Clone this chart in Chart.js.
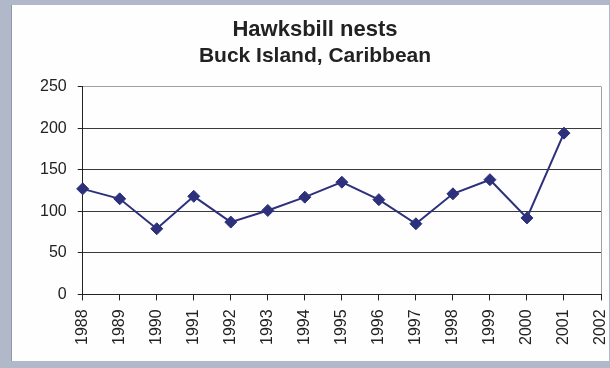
<!DOCTYPE html>
<html lang="en">
<head>
    <meta charset="UTF-8">
    <title>Hawksbill nests</title>
    <script src="https://cdn.jsdelivr.net/npm/chart.js"></script>
    <style>
        body {
            margin: 0;
            background: #b1b8c9;
            font-family: Arial, "Liberation Sans", sans-serif;
        }
        #panel {
            position: absolute;
            left: 11px;
            top: 5px;
            width: 597px;
            height: 356px;
            background: #fefefe;
            border-left: 1px solid #9097a6;
        }
        #wrap {
            position: absolute;
            left: 0;
            top: 0;
            width: 610px;
            height: 368px;
        }
    </style>
</head>
<body>
    <div id="panel"></div>
    <div id="wrap"><canvas id="nestsChart"></canvas></div>

    <script>
        // Data
        const years = ['1988', '1989', '1990', '1991', '1992', '1993', '1994', '1995',
                       '1996', '1997', '1998', '1999', '2000', '2001', '2002'];
        const nests = [127, 115, 79, 118, 87, 101, 117, 135, 114, 85, 121, 138, 92, 194];
        const yTicks = [0, 50, 100, 150, 200, 250];

        const navy = '#2d317c';
        const fontFamily = 'Arial, "Liberation Sans", sans-serif';

        const ctx = document.getElementById('nestsChart').getContext('2d');
        const nestsChart = new Chart(ctx, {
            type: 'line',
            data: {
                labels: years,
                datasets: [{
                    label: 'Hawksbill nests',
                    data: nests,
                    borderColor: navy,
                    backgroundColor: navy,
                    borderWidth: 2,
                    pointStyle: 'rectRot',
                    pointRadius: 6,
                    pointBorderWidth: 1,
                    tension: 0
                }]
            },
            options: {
                responsive: true,
                maintainAspectRatio: false,
                animation: false,
                layout: {
                    padding: { left: 29, right: 9, top: 0, bottom: 14 }
                },
                plugins: {
                    legend: { display: false },
                    tooltip: { enabled: false },
                    title: {
                        display: true,
                        text: 'Hawksbill nests',
                        color: '#222',
                        font: { family: fontFamily, size: 22, weight: 'bold' },
                        padding: { top: 17, bottom: 0 }
                    },
                    subtitle: {
                        display: true,
                        text: 'Buck Island, Caribbean',
                        color: '#222',
                        font: { family: fontFamily, size: 21, weight: 'bold' },
                        padding: { top: 0, bottom: 18 }
                    }
                },
                scales: {
                    x: {
                        offset: false,
                        border: { color: '#222', width: 1 },
                        afterFit: scale => {
                            // rotated labels are thin, no need for the default side padding
                            scale.paddingLeft = 8;
                            scale.paddingRight = 0;
                        },
                        grid: {
                            // only the right-hand plot border is drawn inside the area
                            color: c => c.index === years.length - 1 ? '#a0a0a0' : 'rgba(0,0,0,0)',
                            tickColor: '#222',
                            tickLength: 6
                        },
                        ticks: {
                            color: '#222',
                            font: { family: fontFamily, size: 16 },
                            minRotation: 90,
                            maxRotation: 90,
                            autoSkip: false,
                            padding: 9
                        }
                    },
                    y: {
                        min: 0,
                        max: 250,
                        border: { color: '#222', width: 1 },
                        afterBuildTicks: axis => {
                            axis.ticks = yTicks.map(v => ({ value: v }));
                        },
                        grid: {
                            color: c => c.tick.value === 250 ? '#a0a0a0' : '#3a3a3a',
                            tickColor: '#222',
                            tickLength: 5
                        },
                        ticks: {
                            color: '#222',
                            font: { family: fontFamily, size: 16 },
                            padding: 11
                        }
                    }
                }
            }
        });
    </script>
</body>
</html>
